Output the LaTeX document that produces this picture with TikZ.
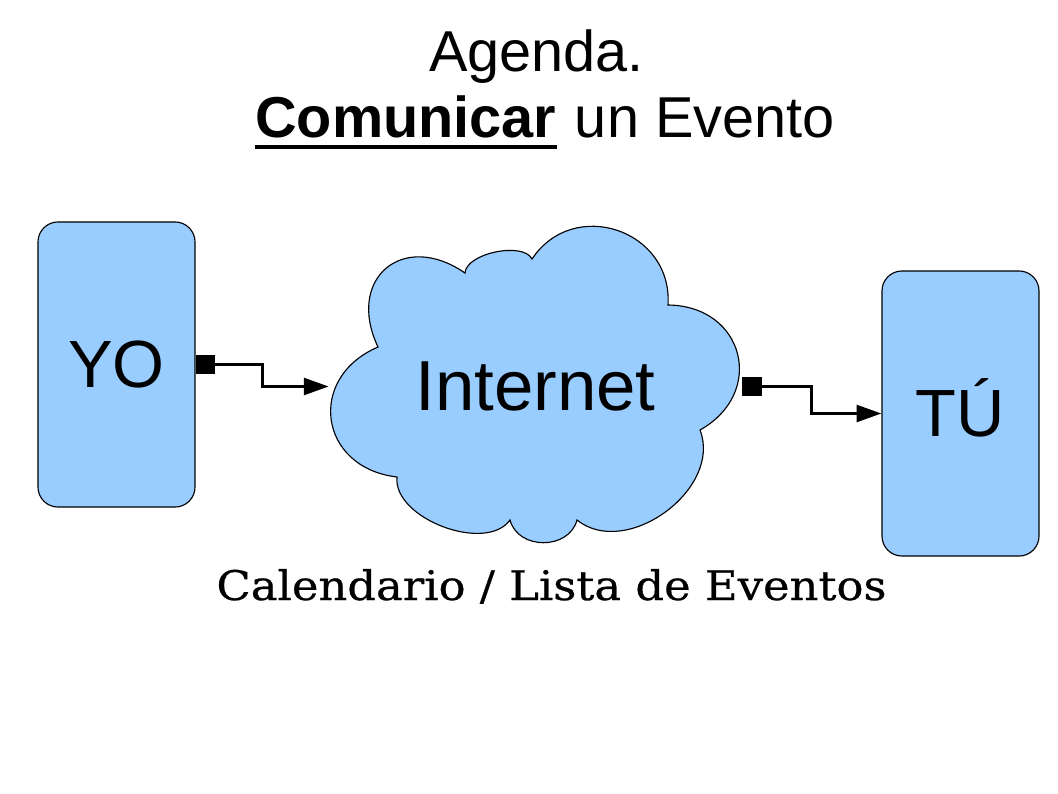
\documentclass[tikz,border=0pt]{standalone}
\usepackage{fontspec}
\setmainfont{Liberation Sans}
\newfontfamily\slabfont[FakeStretch=1.1, FakeBold=0.6]{DejaVu Serif}
\usetikzlibrary{arrows.meta,positioning}
\definecolor{skyfill}{HTML}{99CCFF}

\begin{document}
\begin{tikzpicture}[x=0.025cm, y=-0.025cm,
    box/.style={draw=black, line width=0.8pt, fill=skyfill, rounded corners=0.5cm,
      minimum width=3.925cm, minimum height=7.125cm, inner sep=0pt,
      font=\fontsize{47.5}{57}\selectfont},
    link/.style={line width=2.1pt, {Square[length=14pt,width=14pt]}-{Triangle[length=17.7pt,width=12pt]}},
    bump/.style={bend left=75, looseness=#1},
    headtext/.style={inner sep=0pt, anchor=base, font=\fontsize{41}{49}\selectfont}]
  \useasboundingbox (0,0) rectangle (1058,794);
  % heading
  \node[headtext] (ttl) at (536.5,72) {Agenda.};
  \node[headtext, anchor=base west, font=\fontsize{41}{49}\selectfont\bfseries] (comu) at (255,138) {Comunicar};
  \node[headtext, anchor=base west] (evt) at ([xshift=0.45cm]comu.base east) {un Evento};
  \draw[line width=2.2pt] ([yshift=-0.225cm]comu.base west) -- ([yshift=-0.225cm]comu.base east);
  % the cloud
  \draw[fill=skyfill, line width=0.8pt]
    (378,347) to[bump=1.69] (465,273) to[bump=0.74] (532,259)
    to[bump=1.34] (668,305) to[bump=1.51] (700,430) to[bump=1.06] (577,520)
    to[bump=1.2] (510,520) to[bump=0.88] (397,477) to[bump=1.53] cycle;
  \node[inner sep=0pt, minimum width=10.325cm, minimum height=7.925cm,
    font=\fontsize{50.4}{60}\selectfont] (net) at (535.5,386.5) {Internet};
  \node[box] (yo) at (116.5,364.5) {YO};
  \node[box] (tu) at (960.5,413.5) {\smash{TÚ}\vphantom{T}};
  \draw[link] (yo.east) -- ++(67,0) |- (net.west);
  \draw[link] (net.east) -- ++(69,0) |- (tu.west);
  \node[anchor=base, font=\slabfont\fontsize{29}{35}\selectfont] (cal) at (551.5,600)
    {Calendario / Lista de Eventos};
\end{tikzpicture}
\end{document}
